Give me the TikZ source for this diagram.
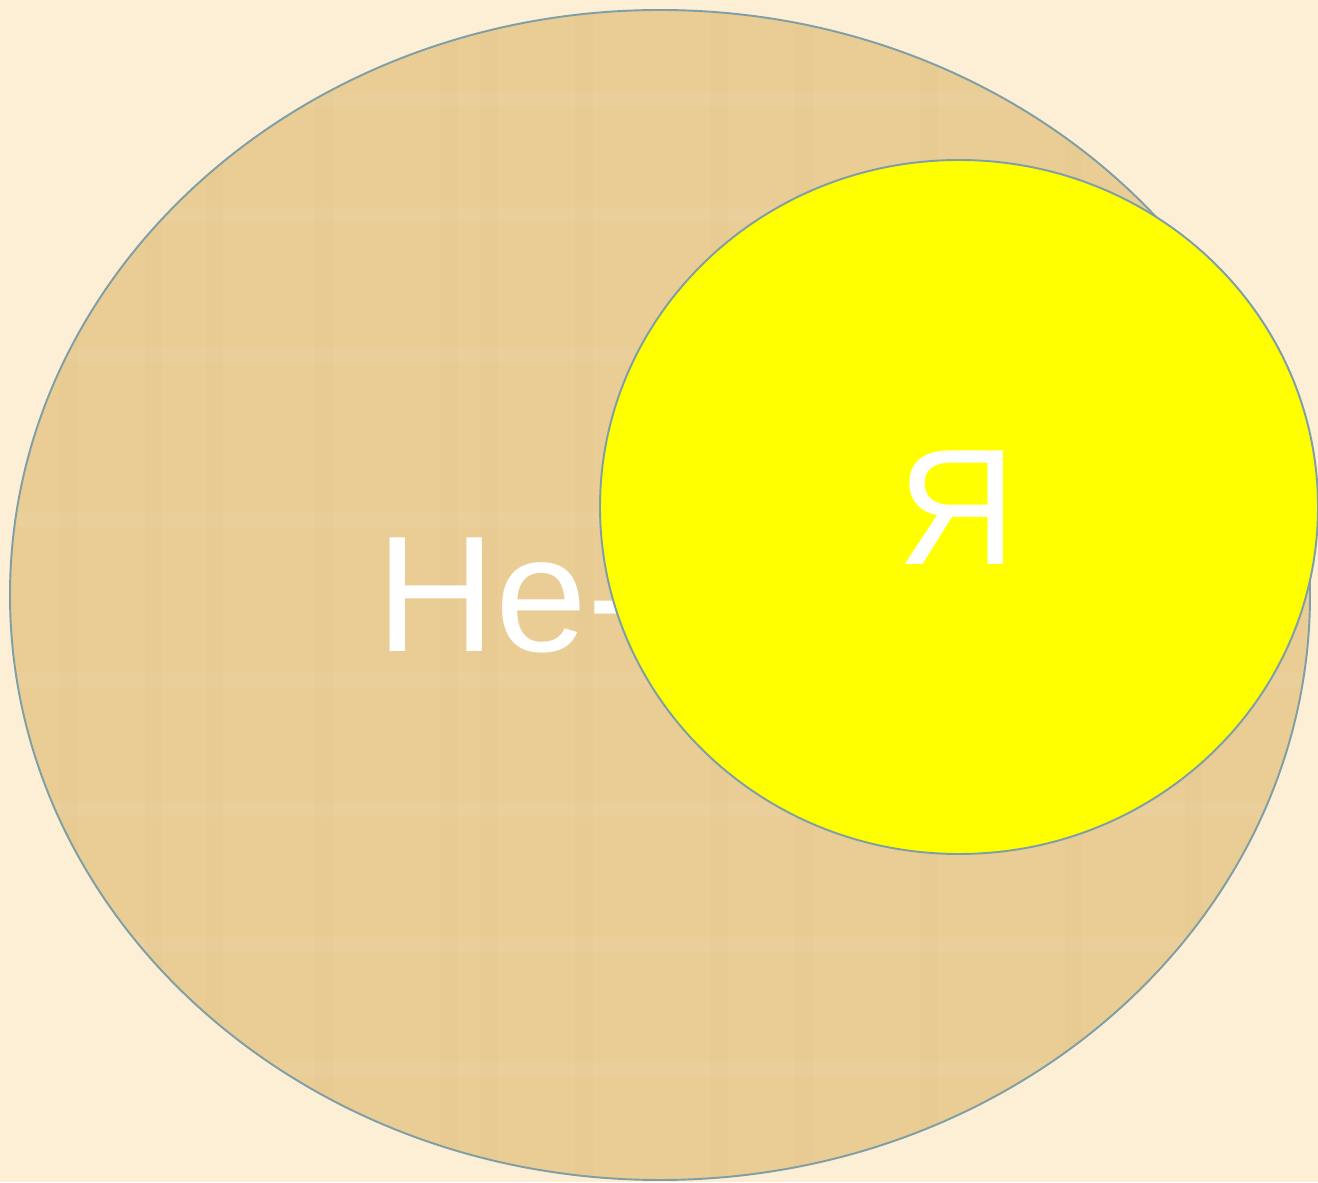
\documentclass[tikz,border=0pt]{standalone}
\usepackage{fontspec}
\setmainfont{Liberation Sans}
\usetikzlibrary{positioning}
\definecolor{paper}{HTML}{FCEFD6}
\definecolor{papyrus}{HTML}{E9CD95}
\definecolor{rimgray}{HTML}{7F9FA5}
\definecolor{sunyel}{HTML}{FFFF00}

\begin{document}
\begin{tikzpicture}[rim/.style={draw=rimgray, line width=1.1pt},
                    bigtext/.style={text=white, font=\fontsize{94}{100}\selectfont, inner sep=0pt}]

% Background
\fill[paper] (0,0) rectangle (26.36,23.64);
\useasboundingbox (0,0) rectangle (26.36,23.64);

% Outer set: Ne-Ya
\fill[papyrus] (13.2,11.74) ellipse [x radius=13.0, y radius=11.7];
\begin{scope}
  \clip (13.2,11.74) ellipse [x radius=13.0, y radius=11.7];
  \foreach \x in {1.2,2.9,4.1,6.3,8.8,9.6,11.5,14.2,15.9,18.4,21.3,23.7} {
    \fill[papyrus!80!brown, opacity=0.10] (\x,0) rectangle (\x+0.35,23.64);
  }
  \foreach \y in {2.1,4.6,7.3,9.9,13.1,16.4,19.2,21.5} {
    \fill[white, opacity=0.05] (0,\y) rectangle (26.36,\y+0.3);
  }
\end{scope}
\draw[rim] (13.2,11.74) ellipse [x radius=13.0, y radius=11.7];
\node[bigtext, anchor=base west] (neya) at (7.52,10.6) {Не-};

% Inner set: Ya
\draw[rim, fill=sunyel] (19.18,13.5) ellipse [x radius=7.18, y radius=6.94];
\node[bigtext, anchor=base] (ya) at (19.14,12.34) {Я};

\end{tikzpicture}
\end{document}
